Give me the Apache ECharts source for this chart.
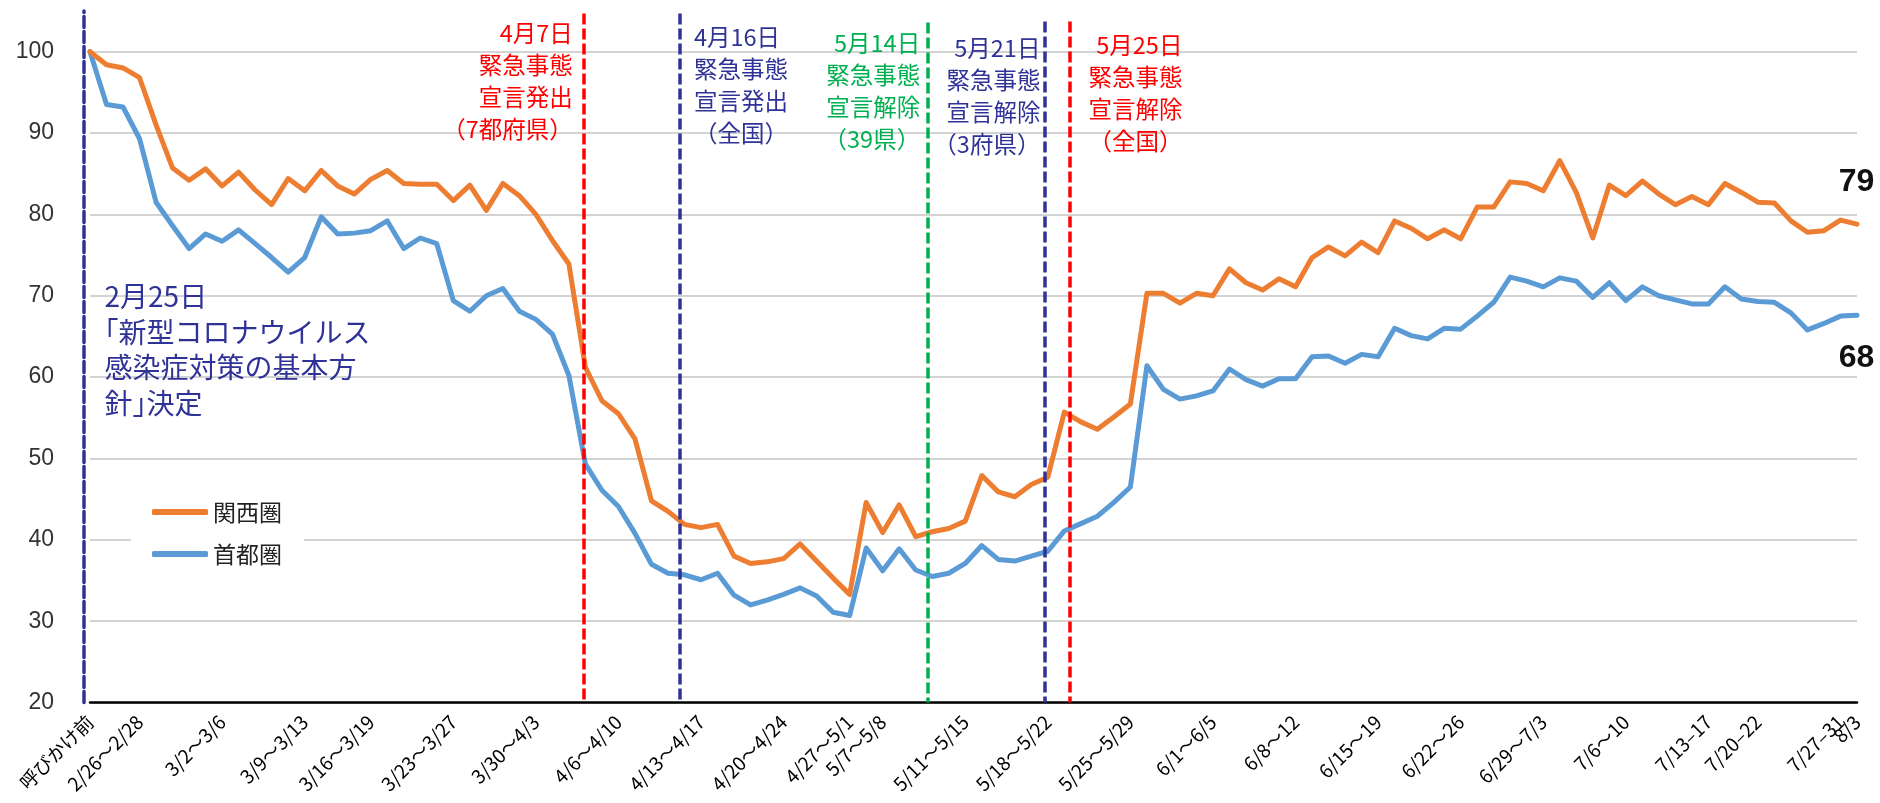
<!DOCTYPE html>
<html><head><meta charset="utf-8">
<script src="https://cdn.jsdelivr.net/npm/echarts@6.0.0/dist/echarts.min.js"></script>
<style>html,body{margin:0;padding:0;background:#fff}#c{width:1880px;height:803px}</style>
</head><body><div id="c"></div>
<script>
// ---- data ----
const weekLabels = ['呼びかけ前','2/26～2/28','3/2～3/6','3/9～3/13','3/16～3/19','3/23～3/27','3/30～4/3','4/6～4/10','4/13～4/17','4/20～4/24','4/27～5/1','5/7～5/8','5/11～5/15','5/18～5/22','5/25～5/29','6/1～6/5','6/8～12','6/15～19','6/22～26','6/29～7/3','7/6～10','7/13–17','7/20–22','7/27–31','8/3'];
const weekDays = [1,3,5,5,4,5,5,5,5,5,4,2,5,5,5,5,5,5,5,5,5,5,3,5,1];

const kansai = [100,98.4,98.0,96.8,91.0,85.7,84.2,85.6,83.5,85.2,
 83.0,81.2,84.4,82.9,85.4,83.5,82.5,84.3,85.4,83.8,
 83.7,83.7,81.7,83.6,80.5,83.8,82.3,80.0,76.8,73.9,
 61.2,57.1,55.5,52.4,44.8,43.5,41.9,41.5,41.9,38.0,
 37.1,37.3,37.7,39.5,37.4,35.3,33.3,44.6,40.9,44.3,
 40.4,41.0,41.4,42.3,47.9,45.9,45.3,46.8,47.7,55.7,
 54.5,53.6,55.1,56.7,70.3,70.3,69.1,70.3,70.0,73.3,
 71.6,70.7,72.1,71.1,74.7,76.0,74.9,76.6,75.3,79.2,
 78.3,77.0,78.1,77.0,80.9,80.9,84.0,83.8,82.9,86.6,
 82.7,77.1,83.6,82.3,84.1,82.5,81.2,82.2,81.2,83.8,
 82.7,81.5,81.4,79.2,77.8,78.0,79.3,78.8];

const shutoken = [100,93.5,93.2,89.3,81.5,78.6,75.8,77.6,76.7,78.1,
 76.4,74.7,72.9,74.7,79.7,77.6,77.7,78.0,79.2,75.8,
 77.1,76.4,69.4,68.1,70.0,70.9,68.1,67.1,65.3,60.2,
 49.3,46.1,44.1,40.8,37.0,35.9,35.7,35.1,35.9,33.2,
 32.0,32.6,33.3,34.1,33.1,31.1,30.7,39.0,36.2,38.9,
 36.3,35.5,35.9,37.1,39.3,37.6,37.4,38.0,38.6,41.1,
 42.0,42.9,44.6,46.5,61.4,58.5,57.3,57.7,58.3,61.0,
 59.7,58.9,59.8,59.8,62.5,62.6,61.7,62.8,62.5,66.0,
 65.1,64.7,66.0,65.9,67.5,69.2,72.3,71.8,71.1,72.2,
 71.8,69.8,71.6,69.4,71.1,70.0,69.5,69.0,69.0,71.1,
 69.6,69.3,69.2,67.9,65.8,66.6,67.5,67.6];

const seriesNames = ['関西圏','首都圏'];

// event dates, as positions in day-index units
const eventX = [29.88, 35.7, 50.7, 57.8, 59.3];
const eventTexts = [
 ['4月7日','緊急事態','宣言発出','（7都府県）'],
 ['4月16日','緊急事態','宣言発出','（全国）'],
 ['5月14日','緊急事態','宣言解除','（39県）'],
 ['5月21日','緊急事態','宣言解除','（3府県）'],
 ['5月25日','緊急事態','宣言解除','（全国）']
];
const noteText = ['2月25日','｢新型コロナウイルス','感染症対策の基本方','針｣決定'];

// ---- styling ----
const NAVY = '#2f3296', RED = '#ff0000', GREEN = '#00b050';
const ORANGE = '#ed7d31', BLUE = '#5b9bd5';
const FJP = '"Noto Sans CJK JP", sans-serif';
const eventStyle = [
 {color: RED, top: 104.7, tx: 29.27, ty: 104.27, align: 'right'},
 {color: NAVY, top: 104.7, tx: 36.6, ty: 103.78, align: 'left'},
 {color: GREEN, top: 103.6, tx: 50.3, ty: 103.04, align: 'right'},
 {color: NAVY, top: 103.7, tx: 57.58, ty: 102.42, align: 'right'},
 {color: RED, top: 103.7, tx: 66.18, ty: 102.79, align: 'right'}
];

// ---- build categories ----
const categories = [];
const labelMap = {};
weekLabels.forEach((w, wi) => {
  for (let d = 0; d < weekDays[wi]; d++) {
    const key = wi + '_' + d;
    categories.push(key);
    if (d === weekDays[wi] - 1) labelMap[key] = w;
  }
});
const last = categories.length - 1;

const chart = echarts.init(document.getElementById('c'), null, {renderer: 'canvas'});

function endMark(values, dy) {
  return {
    silent: true, animation: false,
    data: [{
      coord: [categories[last], values[last]],
      symbol: 'circle', symbolSize: 1, itemStyle: {color: 'rgba(0,0,0,0)'},
      label: {show: true, position: [0, 0], align: 'center', verticalAlign: 'middle', offset: [0, dy],
        formatter: String(Math.round(values[last])), fontSize: 32, fontWeight: 'bold', color: '#111',
        fontFamily: '"Liberation Sans", Arial, sans-serif'}
    }]
  };
}

const option = {
  backgroundColor: '#fff',
  animation: false,
  grid: {left: 90, right: 23, top: 11, bottom: 100.4},
  legend: {
    data: seriesNames, orient: 'vertical', left: 131, top: 474,
    backgroundColor: '#fff', padding: [25, 22, 25, 21],
    itemWidth: 56, itemHeight: 6, itemGap: 16, icon: 'roundRect',
    textStyle: {fontSize: 23, lineHeight: 26, color: '#222', fontFamily: FJP}
  },
  xAxis: [{
    type: 'category', data: categories, boundaryGap: false,
    axisLine: {onZero: false, lineStyle: {color: '#000', width: 2.5}},
    axisTick: {show: false},
    axisLabel: {interval: 0, rotate: 45, margin: 16, fontSize: 19, color: '#000', fontFamily: FJP,
      formatter: v => labelMap[v] || ''},
    splitLine: {show: false}
  }, {
    type: 'value', min: 0, max: last, show: false
  }],
  yAxis: {
    type: 'value', min: 20, max: 105, interval: 10, offset: 6,
    axisLine: {show: true, onZero: false, lineStyle: {color: NAVY, width: 3.5, type: [11, 4]}},
    axisTick: {show: false},
    axisLabel: {margin: 30, fontSize: 23, color: '#333', fontFamily: '"Liberation Sans", Arial, sans-serif', showMaxLabel: false},
    splitLine: {show: true, showMaxLine: false, lineStyle: {color: '#d3d3d3', width: 2}}
  },
  series: [{
    name: seriesNames[1], type: 'line', data: shutoken, symbol: 'none', showSymbol: false,
    lineStyle: {color: BLUE, width: 5, cap: 'round', join: 'round'}, itemStyle: {color: BLUE},
    z: 2, markPoint: endMark(shutoken, 43)
  }, {
    name: seriesNames[0], type: 'line', data: kansai, symbol: 'none', showSymbol: false,
    lineStyle: {color: ORANGE, width: 5, cap: 'round', join: 'round'}, itemStyle: {color: ORANGE},
    z: 3, markPoint: endMark(kansai, -42)
  }, {
    type: 'line', xAxisIndex: 1, yAxisIndex: 0, data: [], silent: true, z: 5,
    markLine: {
      symbol: ['none', 'none'], silent: true, animation: false, label: {show: false},
      data: eventX.map((x, i) => [
        {coord: [x, eventStyle[i].top], lineStyle: {color: eventStyle[i].color, width: 3.5, type: [11, 4]}},
        {coord: [x, 20]}
      ])
    },
    markPoint: {
      silent: true, animation: false,
      data: eventTexts.map((lines, i) => ({
        coord: [eventStyle[i].tx, eventStyle[i].ty], symbol: 'circle', symbolSize: 1,
        itemStyle: {color: 'rgba(0,0,0,0)'},
        label: {show: true, position: [0, 0], align: eventStyle[i].align, verticalAlign: 'top',
          formatter: lines.join('\n'), color: eventStyle[i].color, fontSize: 23.5, lineHeight: 32.3, fontFamily: FJP}
      })).concat([{
        coord: [0.91, 72.07], symbol: 'circle', symbolSize: 1, itemStyle: {color: 'rgba(0,0,0,0)'},
        label: {show: true, position: [0, 0], align: 'left', verticalAlign: 'top',
          formatter: noteText.join('\n'), color: NAVY, fontSize: 28, lineHeight: 35.7, fontFamily: FJP}
      }])
    }
  }]
};
chart.setOption(option);
</script>
</body></html>
